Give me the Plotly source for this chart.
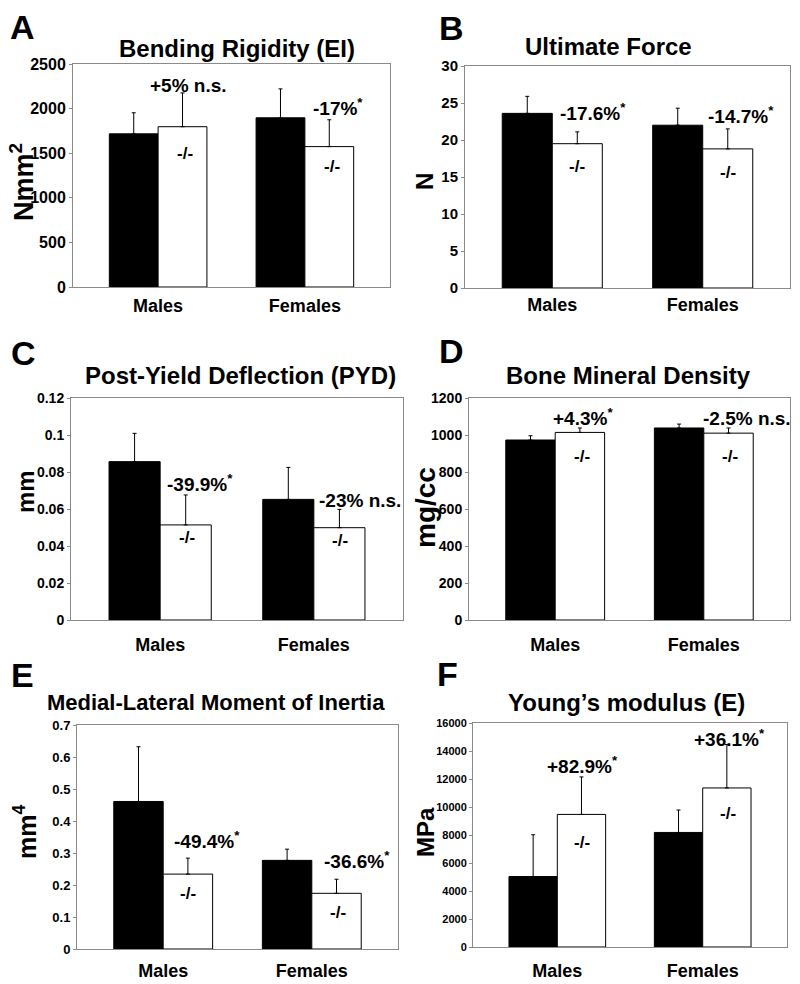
import plotly.graph_objects as go

W, H = 800, 984
FONT = "Liberation Sans, Arial, sans-serif"

categories = ["Males", "Females"]
ko_label = "-/-"

# Panel A - Bending Rigidity (EI)
A_wt = [1717, 1897]
A_wt_err = [236, 324]
A_ko = [1797, 1574]
A_ko_err = [379, 301]
A_pct = ["+5% n.s.", "-17%<sup>*</sup>"]

# Panel B - Ultimate Force
B_wt = [23.6, 22.0]
B_wt_err = [2.3, 2.3]
B_ko = [19.5, 18.8]
B_ko_err = [1.6, 2.7]
B_pct = ["-17.6%<sup>*</sup>", "-14.7%<sup>*</sup>"]

# Panel C - Post-Yield Deflection
C_wt = [0.0856, 0.0652]
C_wt_err = [0.0153, 0.0173]
C_ko = [0.0514, 0.0499]
C_ko_err = [0.0162, 0.0099]
C_pct = ["-39.9%<sup>*</sup>", "-23% n.s."]

# Panel D - Bone Mineral Density
D_wt = [973, 1038]
D_wt_err = [23, 21]
D_ko = [1014, 1010]
D_ko_err = [24, 28]
D_pct = ["+4.3%<sup>*</sup>", "-2.5% n.s."]

# Panel E - Medial-Lateral Moment of Inertia
E_wt = [0.461, 0.277]
E_wt_err = [0.171, 0.035]
E_ko = [0.234, 0.174]
E_ko_err = [0.050, 0.044]
E_pct = ["-49.4%<sup>*</sup>", "-36.6%<sup>*</sup>"]

# Panel F - Young's modulus
F_wt = [5033, 8182]
F_wt_err = [2985, 1604]
F_ko = [9471, 11361]
F_ko_err = [2677, 3100]
F_pct = ["+82.9%<sup>*</sup>", "+36.1%<sup>*</sup>"]

panels = [
    dict(letter="A", title="Bending Rigidity (EI)", ylab="Nmm<sup>2</sup>",
         wt=A_wt, wte=A_wt_err, ko=A_ko, koe=A_ko_err, pct=A_pct,
         box=(73, 390, 64, 287), yr=[0, 2500], dt=500, tfs=16, ylfs=27,
         letter_pos=(22, 27), title_pos=(237, 48), title_fs=24, ylab_pos=(22, 182),
         pct_pos=[(188, 85), (338, 107)], ko_pos=[(185, 153), (332, 167)], stand=2, tfmt=None),
    dict(letter="B", title="Ultimate Force", ylab="N",
         wt=B_wt, wte=B_wt_err, ko=B_ko, koe=B_ko_err, pct=B_pct,
         box=(465, 790, 66, 288), yr=[0, 30], dt=5, tfs=15, ylfs=24,
         letter_pos=(451, 28), title_pos=(608, 47), title_fs=24, ylab_pos=(425, 182),
         pct_pos=[(593, 112), (741, 115)], ko_pos=[(577, 167), (728, 172)], stand=0, tfmt=None),
    dict(letter="C", title="Post-Yield Deflection (PYD)", ylab="mm",
         wt=C_wt, wte=C_wt_err, ko=C_ko, koe=C_ko_err, pct=C_pct,
         box=(71, 403, 398, 620), yr=[0, 0.12], dt=0.02, tfs=14, ylfs=24,
         letter_pos=(23, 353), title_pos=(240, 375), title_fs=24, ylab_pos=(25, 492),
         pct_pos=[(200, 483), (360, 500)], ko_pos=[(187, 537), (340, 540)], stand=8, tfmt=None),
    dict(letter="D", title="Bone Mineral Density", ylab="mg/cc",
         wt=D_wt, wte=D_wt_err, ko=D_ko, koe=D_ko_err, pct=D_pct,
         box=(469, 790, 398, 620), yr=[0, 1200], dt=200, tfs=14, ylfs=28,
         letter_pos=(451, 351), title_pos=(628, 375), title_fs=24, ylab_pos=(425, 508),
         pct_pos=[(583, 417), (747, 418)], ko_pos=[(582, 457), (730, 457)], stand=8, tfmt=None),
    dict(letter="E", title="Medial-Lateral Moment of Inertia", ylab="mm<sup>4</sup>",
         wt=E_wt, wte=E_wt_err, ko=E_ko, koe=E_ko_err, pct=E_pct,
         box=(77, 398, 725, 949), yr=[0, 0.7], dt=0.1, tfs=13, ylfs=25,
         letter_pos=(22, 675), title_pos=(216, 702), title_fs=22, ylab_pos=(25, 832),
         pct_pos=[(207, 840), (357, 860)], ko_pos=[(188, 893), (338, 912)], stand=5, tfmt=None),
    dict(letter="F", title="Young\u2019s modulus (E)", ylab="MPa",
         wt=F_wt, wte=F_wt_err, ko=F_ko, koe=F_ko_err, pct=F_pct,
         box=(473, 787, 723, 947), yr=[0, 16000], dt=2000, tfs=11, ylfs=24,
         letter_pos=(447, 674), title_pos=(626, 702), title_fs=24, ylab_pos=(425, 832),
         pct_pos=[(582, 765), (729, 738)], ko_pos=[(582, 842), (728, 813)], stand=7, tfmt="d"),
]

GRAY = "#8a8a8a"
fig = go.Figure()
annotations = []

def px(x):
    return x / W

def py(y):
    return 1 - y / H

def note(text, x, y, size, angle=0):
    return dict(text=text, x=px(x), y=py(y), xref="paper", yref="paper",
                xanchor="center", yanchor="middle", showarrow=False, textangle=angle,
                font=dict(family=FONT, size=size, color="black", weight="bold"))

for i, p in enumerate(panels):
    n = "" if i == 0 else str(i + 1)
    xa, ya = "x" + n, "y" + n
    x0, x1, y0, y1 = p["box"]
    fig.add_trace(go.Bar(
        x=categories, y=p["wt"], xaxis=xa, yaxis=ya, name="WT",
        marker=dict(color="black", line=dict(color="black", width=1)),
        error_y=dict(type="data", symmetric=False, array=p["wte"],
                     arrayminus=[0] * len(p["wte"]), color="black", thickness=1, width=2),
        showlegend=False))
    fig.add_trace(go.Bar(
        x=categories, y=p["ko"], xaxis=xa, yaxis=ya, name="-/-",
        marker=dict(color="white", line=dict(color="black", width=1)),
        error_y=dict(type="data", symmetric=False, array=p["koe"],
                     arrayminus=[0] * len(p["koe"]), color="black", thickness=1, width=2),
        showlegend=False))
    fig.update_layout(**{
        "xaxis" + n: dict(domain=[px(x0), px(x1)], anchor=ya, type="category",
                          range=[-0.58, 1.58], showline=True, mirror=True,
                          linecolor=GRAY, linewidth=1, ticks="", showgrid=False,
                          automargin=False, zeroline=False,
                          tickfont=dict(family=FONT, size=18, color="black", weight="bold"),
                          ticklabelstandoff=p["stand"], fixedrange=True),
        "yaxis" + n: dict(domain=[py(y1), py(y0)], anchor=xa, range=p["yr"],
                          dtick=p["dt"], tick0=0, showline=True, mirror=True,
                          linecolor=GRAY, linewidth=1, ticks="outside", ticklen=3,
                          tickcolor=GRAY, showgrid=False, zeroline=False, automargin=False,
                          tickformat=p["tfmt"], fixedrange=True,
                          tickfont=dict(family=FONT, size=p["tfs"], color="black", weight="bold")),
    })
    annotations.append(note(p["letter"], *p["letter_pos"], 34))
    annotations.append(note(p["title"], *p["title_pos"], p["title_fs"]))
    annotations.append(note(p["ylab"], *p["ylab_pos"], p["ylfs"], -90))
    for t, (ax, ay) in zip(p["pct"], p["pct_pos"]):
        annotations.append(note(t, ax, ay, 19))
    for (ax, ay) in p["ko_pos"]:
        annotations.append(note(ko_label, ax, ay, 17))

fig.update_layout(
    template="none",
    width=W, height=H,
    margin=dict(l=0, r=0, t=0, b=0, pad=0),
    paper_bgcolor="white", plot_bgcolor="white",
    barmode="group", bargap=0.335, bargroupgap=0,
    showlegend=False,
    annotations=annotations,
    font=dict(family=FONT, color="black"),
)

fig.write_html("out.html", config={"displayModeBar": False},
               post_script="document.body.style.margin='0';document.body.style.padding='0';")
